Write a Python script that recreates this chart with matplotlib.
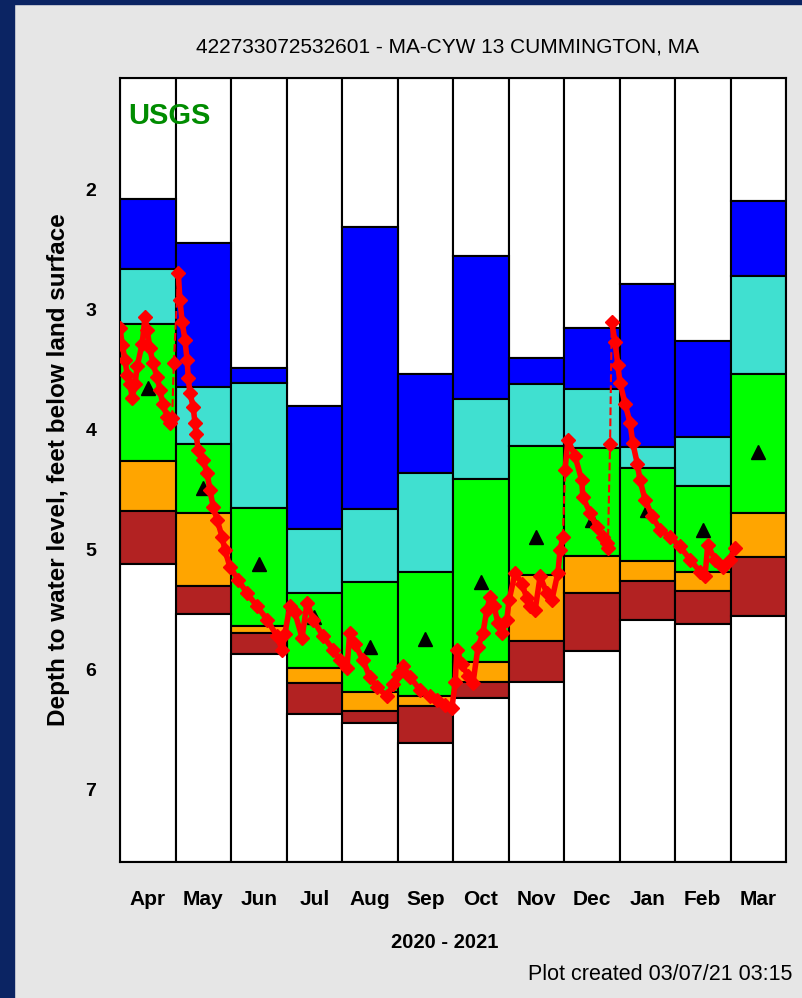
import matplotlib
matplotlib.use("Agg")
import matplotlib.pyplot as plt
from matplotlib.patches import Rectangle
import numpy as np

plt.rcParams['font.family'] = ['Liberation Sans', 'DejaVu Sans']

months = ["Apr", "May", "Jun", "Jul", "Aug", "Sep", "Oct", "Nov", "Dec", "Jan", "Feb", "Mar"]

# percentile boundaries, feet below land surface (shallow -> deep)
lvl_min = [2.075, 2.44, 3.48, 3.80, 2.31, 3.53, 2.55, 3.40, 3.15, 2.78, 3.26, 2.09]
lvl_p90 = [2.66, 3.64, 3.61, 4.825, 4.66, 4.36, 3.74, 3.62, 3.66, 4.14, 4.06, 2.72]
lvl_p75 = [3.12, 4.12, 4.65, 5.36, 5.27, 5.18, 4.41, 4.13, 4.15, 4.32, 4.47, 3.53]
lvl_p25 = [4.26, 4.69, 5.63, 5.98, 6.18, 6.22, 5.93, 5.21, 5.05, 5.09, 5.18, 4.69]
lvl_p10 = [4.675, 5.30, 5.69, 6.11, 6.34, 6.30, 6.10, 5.76, 5.36, 5.26, 5.34, 5.06]
lvl_max = [5.12, 5.53, 5.87, 6.37, 6.44, 6.61, 6.23, 6.10, 5.84, 5.58, 5.62, 5.55]
medians = [3.65, 4.48, 5.12, 5.56, 5.81, 5.74, 5.27, 4.89, 4.75, 4.67, 4.83, 4.18]

# daily levels, position in months from Apr 1 2020
apr_pos = [0.00, 0.04, 0.09, 0.13, 0.18, 0.22, 0.27, 0.31, 0.40, 0.45, 0.49, 0.54, 0.59,
           0.67, 0.72, 0.77, 0.85, 0.90, 0.94]
apr_lvl = [3.15, 3.29, 3.42, 3.54, 3.62, 3.73, 3.62, 3.47, 3.28, 3.06, 3.17, 3.32, 3.44,
           3.56, 3.67, 3.78, 3.89, 3.94, 3.90]

gap1_pos = [0.97]
gap1_lvl = [3.44]

main_pos = [1.05, 1.08, 1.12, 1.17, 1.21, 1.23, 1.26, 1.32, 1.35, 1.37, 1.41, 1.50, 1.57,
            1.62, 1.68, 1.75, 1.84, 1.89, 1.98, 2.13, 2.29, 2.47, 2.65, 2.83, 2.92,
            2.97, 3.06, 3.15, 3.28, 3.37, 3.48, 3.66, 3.84, 3.96, 4.09,
            4.14, 4.23, 4.38, 4.50, 4.63, 4.81, 4.92, 5.01, 5.10, 5.23, 5.41, 5.59, 5.71,
            5.86, 5.98, 6.04, 6.07, 6.16, 6.27, 6.36, 6.45, 6.54, 6.61, 6.67, 6.74, 6.81,
            6.88, 6.97, 7.01, 7.12, 7.24, 7.33, 7.39, 7.48, 7.57, 7.69, 7.78, 7.89, 7.93, 7.98]
main_lvl = [2.69, 2.92, 3.10, 3.25, 3.42, 3.57, 3.69, 3.81, 3.94, 4.03, 4.17, 4.25, 4.36,
            4.50, 4.64, 4.75, 4.89, 5.00, 5.14, 5.25, 5.36, 5.47, 5.58, 5.72, 5.83,
            5.70, 5.47, 5.52, 5.73, 5.44, 5.58, 5.72, 5.83, 5.92, 5.98,
            5.69, 5.78, 5.92, 6.06, 6.14, 6.22, 6.12, 6.03, 5.97, 6.06, 6.17, 6.22, 6.25,
            6.29, 6.32, 6.10, 5.83, 5.95, 6.05, 6.11, 5.81, 5.69, 5.50, 5.39, 5.47, 5.61,
            5.69, 5.58, 5.42, 5.19, 5.28, 5.40, 5.47, 5.50, 5.22, 5.36, 5.42, 5.19, 5.00, 4.89]

dec_pos = [8.02, 8.07, 8.20, 8.32, 8.34, 8.47, 8.59, 8.70, 8.77, 8.79]
dec_lvl = [4.33, 4.08, 4.22, 4.42, 4.56, 4.69, 4.81, 4.89, 4.94, 4.98]

gap2_pos = [8.83]
gap2_lvl = [4.12]

jan_pos = [8.86, 8.92, 8.97, 9.01, 9.10, 9.19, 9.24, 9.32, 9.37, 9.46, 9.59, 9.73, 9.91,
           10.09, 10.27, 10.45, 10.54, 10.59, 10.72, 10.86, 10.99, 11.08]
jan_lvl = [3.10, 3.27, 3.46, 3.61, 3.78, 3.94, 4.11, 4.28, 4.42, 4.58, 4.72, 4.83, 4.89,
           4.97, 5.08, 5.18, 5.22, 4.96, 5.08, 5.14, 5.08, 4.98]

y_top, y_bot = 1.067, 7.6

fig = plt.figure(figsize=(8.02, 9.98), dpi=100, facecolor="#e6e6e6")
fig.patches.append(Rectangle((0, 0), 14 / 802, 1, transform=fig.transFigure,
                             color="#0b2463", zorder=0))
fig.patches.append(Rectangle((0, 1 - 4 / 998), 1, 4 / 998, transform=fig.transFigure,
                             color="#0b2463", zorder=0))
ax = fig.add_axes([120 / 802, 1 - 862 / 998, 666 / 802, 784 / 998])

x = np.arange(len(months)) + 0.5
edges = [np.full(12, y_top), lvl_min, lvl_p90, lvl_p75, lvl_p25, lvl_p10, lvl_max,
         np.full(12, y_bot)]
colors = ["white", "#0000ff", "#40e0d0", "#00ff00", "#ffa500", "#b22222", "white"]
for i, c in enumerate(colors):
    lo = np.array(edges[i])
    hi = np.array(edges[i + 1])
    ax.bar(x, hi - lo, bottom=lo, width=1.0, color=c, edgecolor="black",
           linewidth=1.5, zorder=1)

ax.plot(x, medians, linestyle="none", marker="^", color="black", markersize=10, zorder=3)

red = "#ff0000"
ax.plot([apr_pos[-1], gap1_pos[0], main_pos[0]], [apr_lvl[-1], gap1_lvl[0], main_lvl[0]],
        color=red, linestyle="--", linewidth=1.5, zorder=4)
ax.plot([main_pos[-1], dec_pos[0]], [main_lvl[-1], dec_lvl[0]],
        color=red, linestyle="--", linewidth=1.5, zorder=4)
ax.plot([dec_pos[-1], gap2_pos[0], jan_pos[0]], [dec_lvl[-1], gap2_lvl[0], jan_lvl[0]],
        color=red, linestyle="--", linewidth=1.5, zorder=4)
ax.plot(gap1_pos + gap2_pos, gap1_lvl + gap2_lvl, linestyle="none", marker="D",
        color=red, markersize=7, zorder=5)
for p, v in [(apr_pos, apr_lvl), (main_pos, main_lvl), (dec_pos, dec_lvl), (jan_pos, jan_lvl)]:
    ax.plot(p, v, color=red, linewidth=4, marker="D", markersize=7.5, zorder=5)

ax.set_xlim(0, 12)
ax.set_ylim(y_bot, y_top)
ax.set_yticks([2, 3, 4, 5, 6, 7])
ax.set_yticklabels(["2", "3", "4", "5", "6", "7"], fontsize=14, fontweight="bold")
ax.set_xticks(x)
ax.set_xticklabels(months, fontsize=15, fontweight="bold")
ax.tick_params(axis="y", length=0, pad=17)
ax.tick_params(axis="x", length=0, pad=20)
for s in ax.spines.values():
    s.set_linewidth(1.5)

ax.set_ylabel("Depth to water level, feet below land surface", fontsize=17.5,
              fontweight="bold", labelpad=11)
ax.text(0.012, 0.97, "USGS", transform=ax.transAxes, color="#008c00", fontsize=21,
        fontweight="bold", ha="left", va="top")

fig.text(448 / 802, 1 - 47 / 998, "422733072532601 - MA-CYW 13 CUMMINGTON, MA",
         ha="center", va="center", fontsize=15)
fig.text(445 / 802, 1 - 942 / 998, "2020 - 2021", ha="center", va="center",
         fontsize=14.5, fontweight="bold")
fig.text(792 / 802, 1 - 975 / 998, "Plot created 03/07/21 03:15", ha="right",
         va="center", fontsize=15.5)

fig.savefig("out.png", dpi=100, facecolor=fig.get_facecolor())
